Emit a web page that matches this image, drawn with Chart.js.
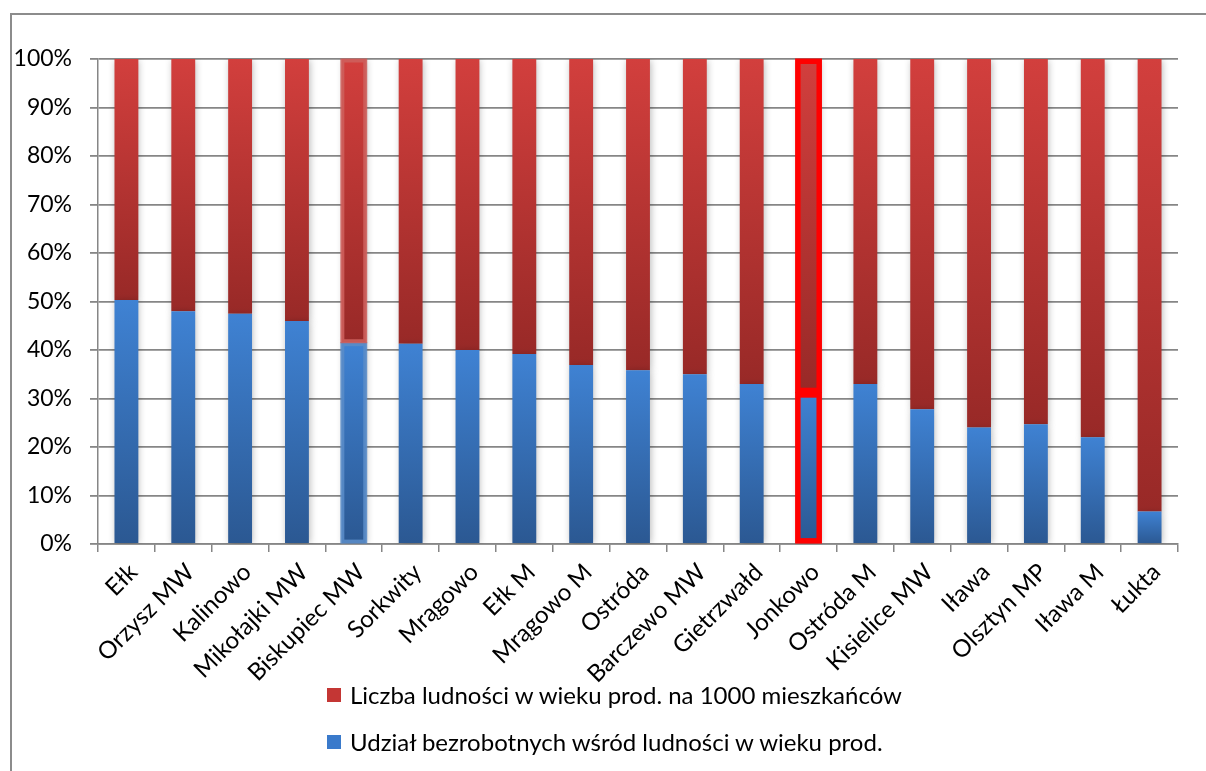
<!DOCTYPE html>
<html>
<head>
<meta charset="utf-8">
<script src="https://cdn.jsdelivr.net/npm/chart.js@4.4.1/dist/chart.umd.min.js"></script>
<style>
  html, body { margin: 0; padding: 0; background: #fff; }
  #wrap { position: relative; width: 1206px; height: 771px; overflow: hidden; }
  #frame { position: absolute; left: 10px; top: 13px; width: 1230px; height: 800px; border: 2px solid #8c8c8c; box-sizing: border-box; }
  #chart { position: absolute; left: 0; top: 0; }
  #legend { position: absolute; left: 327px; top: 671px; font-family: Lato, sans-serif; font-size: 24px; color: #000; }
  .item { display: flex; align-items: center; height: 47px; }
  .box { width: 14px; height: 14px; margin-right: 9px; }
</style>
</head>
<body>
<div id="wrap">
  <div id="frame"></div>
  <canvas id="chart" width="1206" height="771"></canvas>
  <div id="legend"></div>
</div>
<script>
const categories = ['Ełk', 'Orzysz MW', 'Kalinowo', 'Mikołajki MW', 'Biskupiec MW', 'Sorkwity', 'Mrągowo',
  'Ełk M', 'Mrągowo M', 'Ostróda', 'Barczewo MW', 'Gietrzwałd', 'Jonkowo', 'Ostróda M', 'Kisielice MW',
  'Iława', 'Olsztyn MP', 'Iława M', 'Łukta'];

// share of each series in the 100% stack (percent)
const unemployedShare = [50.3, 48.0, 47.5, 46.0, 41.5, 41.3, 40.0, 39.2, 36.9, 35.8, 35.0, 33.0, 31.2, 33.0, 27.8, 24.0, 24.7, 22.0, 6.7];
const populationShare = [49.7, 52.0, 52.5, 54.0, 58.5, 58.7, 60.0, 60.8, 63.1, 64.2, 65.0, 67.0, 68.8, 67.0, 72.2, 76.0, 75.3, 78.0, 93.3];

const yTicks = [0, 10, 20, 30, 40, 50, 60, 70, 80, 90, 100];

const populationLabel = 'Liczba ludności w wieku prod. na 1000 mieszkańców';
const unemployedLabel = 'Udział bezrobotnych wśród ludności w wieku prod.';

// bars that were selected / marked in the original
const highlights = [
  { category: 'Biskupiec MW', width: 4, colors: ['rgba(90,140,200,0.9)', 'rgba(205,95,92,0.9)'] },
  { category: 'Jonkowo', width: 5.5, colors: ['#ff0000', '#ff0000'] }
];

function segGradient(context, light, dark) {
  const chart = context.chart;
  if (!chart.chartArea) return dark;
  const i = context.dataIndex;
  const y = chart.scales.y;
  const lo = context.datasetIndex === 0 ? 0 : unemployedShare[i];
  const hi = context.datasetIndex === 0 ? unemployedShare[i] : unemployedShare[i] + populationShare[i];
  const g = chart.ctx.createLinearGradient(0, y.getPixelForValue(hi), 0, y.getPixelForValue(lo));
  g.addColorStop(0, light);
  g.addColorStop(1, dark);
  return g;
}

const barShadow = {
  id: 'barShadow',
  beforeDatasetsDraw(chart) {
    const c = chart.ctx;
    c.save();
    c.shadowColor = 'rgba(0,0,0,0.28)';
    c.shadowBlur = 7;
    c.shadowOffsetX = 1;
    c.shadowOffsetY = 1;
  },
  afterDatasetsDraw(chart) {
    chart.ctx.restore();
  }
};

const barHighlight = {
  id: 'barHighlight',
  afterDatasetsDraw(chart) {
    const c = chart.ctx;
    highlights.forEach(h => {
      const i = categories.indexOf(h.category);
      chart.data.datasets.forEach((ds, d) => {
        const el = chart.getDatasetMeta(d).data[i];
        const top = Math.min(el.y, el.base) - 0.5;
        const bottom = Math.max(el.y, el.base) + 0.5;
        const left = el.x - el.width / 2 - 1.5;
        const right = el.x + el.width / 2 + 1.5;
        c.save();
        c.strokeStyle = h.colors[d];
        c.lineWidth = h.width;
        c.strokeRect(left + h.width / 2, top + h.width / 2, right - left - h.width, bottom - top - h.width);
        c.restore();
      });
    });
  }
};

const chart = new Chart(document.getElementById('chart'), {
  type: 'bar',
  data: {
    labels: categories,
    datasets: [
      {
        label: unemployedLabel,
        data: unemployedShare,
        backgroundColor: ctx => segGradient(ctx, '#3f82d3', '#2b5892'),
        legendColor: '#3a7acb'
      },
      {
        label: populationLabel,
        data: populationShare,
        backgroundColor: ctx => segGradient(ctx, '#d23f3d', '#982927'),
        legendColor: '#c43634'
      }
    ]
  },
  options: {
    responsive: false,
    animation: false,
    layout: { padding: { top: 59, right: 28, left: 0, bottom: 0 } },
    datasets: { bar: { categoryPercentage: 1, barPercentage: 0.42, borderWidth: 0 } },
    plugins: { legend: { display: false }, tooltip: { enabled: false } },
    scales: {
      x: {
        stacked: true,
        afterFit: s => { s.height = 771 - 544; },
        grid: { offset: true, drawOnChartArea: false, drawTicks: true, tickLength: 8, color: '#868686', lineWidth: 1.5 },
        border: { color: '#868686', width: 1.5 },
        ticks: { minRotation: 45, maxRotation: 45, autoSkip: false, padding: 6, labelOffset: 7, color: '#000', font: { family: 'Lato', size: 24 } }
      },
      y: {
        stacked: true,
        min: 0,
        max: 100,
        afterFit: s => { s.width = 98; },
        afterBuildTicks: s => { s.ticks = yTicks.map(v => ({ value: v })); },
        grid: { color: '#868686', lineWidth: 1.8, tickLength: 8 },
        border: { color: '#868686', width: 1.5 },
        ticks: { padding: 18, color: '#000', font: { family: 'Lato', size: 23 }, callback: v => v + '%' }
      }
    }
  },
  plugins: [barShadow, barHighlight]
});

// legend: top row is the upper series
const legend = document.getElementById('legend');
chart.data.datasets.slice().reverse().forEach(ds => {
  const item = document.createElement('div');
  item.className = 'item';
  const box = document.createElement('span');
  box.className = 'box';
  box.style.background = ds.legendColor;
  const text = document.createElement('span');
  text.textContent = ds.label;
  item.appendChild(box);
  item.appendChild(text);
  legend.appendChild(item);
});
</script>
</body>
</html>
